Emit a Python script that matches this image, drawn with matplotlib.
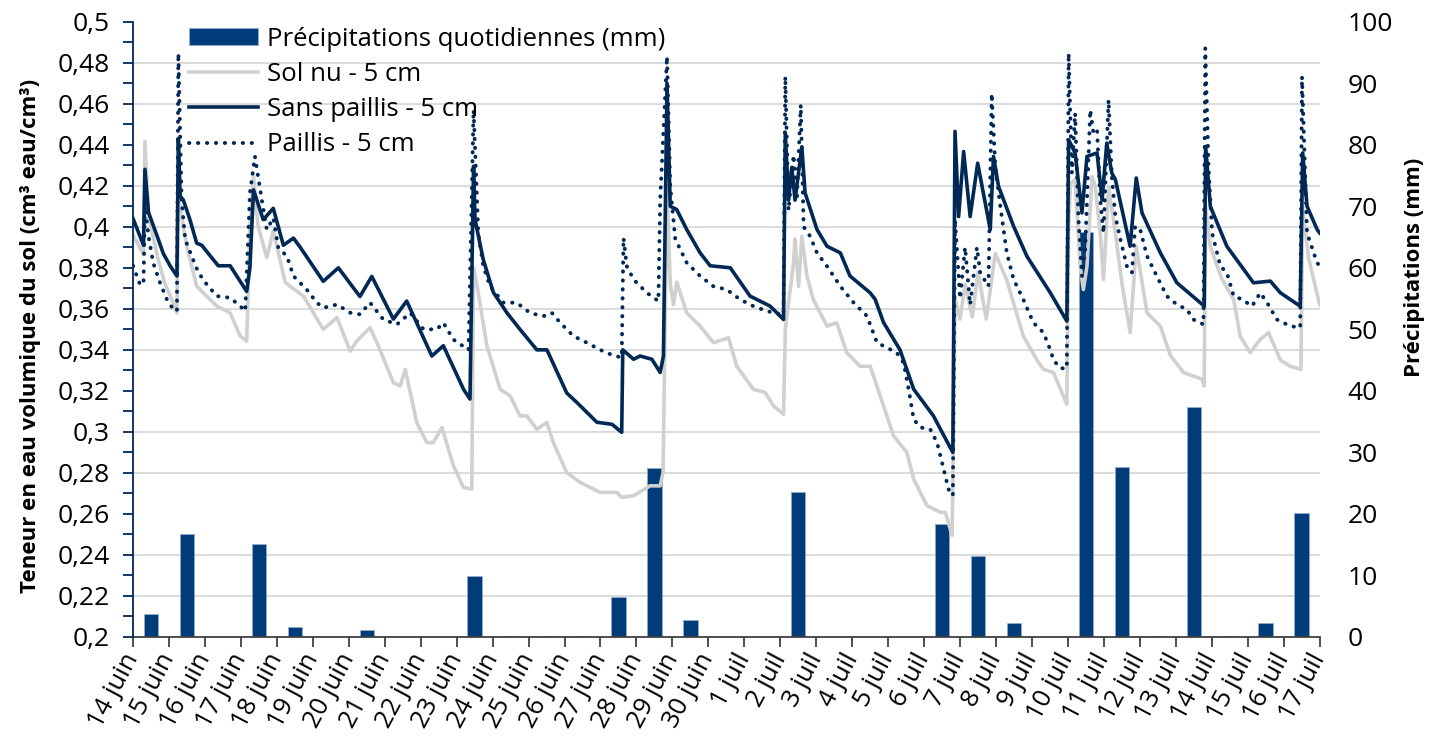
import matplotlib
matplotlib.use("Agg")
import matplotlib.pyplot as plt
from matplotlib.ticker import MultipleLocator, FuncFormatter

plt.rcParams['font.family'] = ['Open Sans', 'DejaVu Sans']

# tick labels (one per day boundary, 14 juin -> 17 juil)
day_labels = ["14 juin", "15 juin", "16 juin", "17 juin", "18 juin", "19 juin", "20 juin",
              "21 juin", "22 juin", "23 juin", "24 juin", "25 juin", "26 juin", "27 juin",
              "28 juin", "29 juin", "30 juin", "1 juil", "2 juil", "3 juil", "4 juil",
              "5 juil", "6 juil", "7 juil", "8 juil", "9 juil", "10 juil", "11 juil",
              "12 juil", "13 juil", "14 juil", "15 juil", "16 juil", "17 juil"]

# daily rainfall (mm), one value per day 14 juin .. 16 juil
precip = [3.7, 16.7, 0, 15.1, 1.7, 0, 1.2, 0, 0, 9.9, 0.1, 0.1, 0.1, 6.5, 27.4, 2.7, 0,
          0, 23.6, 0, 0, 0, 18.4, 13.1, 2.2, 0, 65.8, 27.6, 0.2, 37.3, 0.2, 2.2, 20.2]

# soil water content, (days since 14 juin 0h, cm3/cm3)
sol_nu = [(0, 0.396), (0.29, 0.3865), (0.33, 0.4417), (0.43, 0.405), (0.70, 0.384), (0.89, 0.372),
          (1.08, 0.3645), (1.22, 0.358), (1.26, 0.415), (1.35, 0.405), (1.50, 0.39), (1.77, 0.371),
          (2.33, 0.3613), (2.70, 0.358), (2.98, 0.3467), (3.16, 0.3443), (3.25, 0.40), (3.35, 0.425),
          (3.48, 0.400), (3.72, 0.385), (3.90, 0.398), (4.23, 0.373), (4.37, 0.371), (4.74, 0.3662),
          (5.29, 0.350), (5.67, 0.3557), (6.04, 0.3394), (6.22, 0.3443), (6.59, 0.3508), (6.82, 0.342),
          (7.24, 0.324), (7.43, 0.3224), (7.57, 0.3305), (7.89, 0.3046), (8.17, 0.2948), (8.35, 0.2948),
          (8.59, 0.3021), (8.91, 0.2835), (9.19, 0.2729), (9.42, 0.2721), (9.47, 0.38), (9.56, 0.372),
          (9.84, 0.342), (10.21, 0.3208), (10.49, 0.3175), (10.76, 0.3078), (10.95, 0.3078),
          (11.23, 0.3013), (11.51, 0.3046), (11.69, 0.2948), (12.06, 0.2802), (12.43, 0.2754),
          (12.99, 0.2705), (13.45, 0.2705), (13.59, 0.2681), (13.92, 0.2689), (14.38, 0.2737),
          (14.66, 0.2737), (14.74, 0.28), (14.85, 0.42), (14.94, 0.372), (15.03, 0.362), (15.12, 0.373),
          (15.40, 0.358), (15.77, 0.3516), (16.14, 0.3435), (16.56, 0.3459), (16.79, 0.332),
          (17.25, 0.3208), (17.58, 0.3192), (17.81, 0.3127), (18.09, 0.3086), (18.14, 0.35),
          (18.23, 0.363), (18.37, 0.3824), (18.41, 0.394), (18.51, 0.371), (18.60, 0.3954),
          (18.74, 0.376), (18.92, 0.3645), (19.30, 0.3516), (19.57, 0.3532), (19.85, 0.3386),
          (20.22, 0.332), (20.50, 0.332), (20.78, 0.3175), (21.15, 0.2981), (21.52, 0.29),
          (21.71, 0.277), (22.08, 0.264), (22.45, 0.2608), (22.59, 0.2608), (22.78, 0.2495),
          (22.86, 0.365), (23.00, 0.355), (23.14, 0.372), (23.34, 0.356), (23.50, 0.378),
          (23.73, 0.355), (23.98, 0.387), (24.30, 0.374), (24.76, 0.3467), (25.14, 0.335),
          (25.32, 0.3305), (25.60, 0.3289), (25.83, 0.3192), (25.97, 0.3135), (26.02, 0.40),
          (26.07, 0.421), (26.20, 0.423), (26.34, 0.3808), (26.43, 0.3694), (26.53, 0.3808),
          (26.67, 0.4246), (26.76, 0.4197), (26.90, 0.397), (26.99, 0.3743), (27.13, 0.4197),
          (27.32, 0.397), (27.50, 0.3727), (27.73, 0.3484), (27.90, 0.3905), (28.20, 0.358),
          (28.57, 0.3516), (28.85, 0.3372), (29.22, 0.3289), (29.73, 0.3257), (29.79, 0.3224),
          (29.83, 0.41), (29.96, 0.3904), (30.27, 0.375), (30.61, 0.3645), (30.79, 0.3467),
          (31.07, 0.3386), (31.35, 0.3451), (31.58, 0.3484), (31.91, 0.335), (32.18, 0.332),
          (32.48, 0.3305), (32.53, 0.41), (32.69, 0.385), (33.0, 0.362)]

sans_paillis = [(0, 0.404), (0.29, 0.391), (0.33, 0.428), (0.43, 0.407), (0.70, 0.394), (0.84, 0.387),
                (1.03, 0.381), (1.22, 0.376), (1.26, 0.443), (1.31, 0.415), (1.40, 0.413), (1.59, 0.403),
                (1.77, 0.392), (1.91, 0.391), (2.23, 0.384), (2.37, 0.381), (2.70, 0.381), (3.16, 0.3685),
                (3.25, 0.38), (3.35, 0.418), (3.62, 0.4035), (3.90, 0.409), (4.18, 0.391), (4.46, 0.3945),
                (4.65, 0.390), (5.29, 0.3734), (5.71, 0.380), (6.31, 0.366), (6.64, 0.3758), (7.24, 0.355),
                (7.61, 0.3638), (8.31, 0.337), (8.63, 0.342), (9.19, 0.3208), (9.37, 0.316), (9.47, 0.4295),
                (9.51, 0.4035), (9.74, 0.384), (10.02, 0.368), (10.40, 0.358), (10.76, 0.350),
                (11.23, 0.340), (11.51, 0.340), (12.06, 0.319), (12.34, 0.3144), (12.90, 0.3047),
                (13.32, 0.3037), (13.59, 0.2998), (13.62, 0.340), (13.92, 0.3354), (14.10, 0.337),
                (14.43, 0.3354), (14.66, 0.329), (14.75, 0.337), (14.85, 0.470), (14.94, 0.410),
                (15.12, 0.4084), (15.40, 0.3986), (15.77, 0.3873), (16.05, 0.381), (16.61, 0.380),
                (17.16, 0.3662), (17.72, 0.3613), (18.09, 0.3548), (18.14, 0.4457), (18.23, 0.413),
                (18.32, 0.429), (18.41, 0.413), (18.60, 0.439), (18.69, 0.4165), (19.02, 0.3987),
                (19.30, 0.3905), (19.67, 0.3873), (19.94, 0.376), (20.50, 0.3678), (20.64, 0.3646),
                (20.87, 0.3534), (21.33, 0.340), (21.71, 0.3208), (22.26, 0.3078), (22.50, 0.2998),
                (22.80, 0.290), (22.86, 0.4465), (22.96, 0.405), (23.10, 0.4367), (23.28, 0.405),
                (23.49, 0.431), (23.84, 0.3987), (23.93, 0.4343), (24.07, 0.4197), (24.49, 0.4002),
                (24.86, 0.3856), (25.51, 0.3678), (25.97, 0.354), (26.02, 0.4424), (26.20, 0.436),
                (26.39, 0.4068), (26.53, 0.4343), (26.81, 0.436), (26.95, 0.413), (27.08, 0.4408),
                (27.22, 0.4262), (27.32, 0.423), (27.73, 0.3905), (27.90, 0.4238), (28.06, 0.4068),
                (28.57, 0.3873), (29.03, 0.3727), (29.68, 0.363), (29.79, 0.3613), (29.83, 0.4392),
                (29.96, 0.41), (30.42, 0.3905), (31.16, 0.3727), (31.63, 0.3735), (31.91, 0.3678),
                (32.46, 0.3613), (32.53, 0.436), (32.65, 0.41), (32.93, 0.3987), (33.0, 0.397)]

paillis = [(0, 0.381), (0.19, 0.372), (0.29, 0.372), (0.33, 0.41), (0.43, 0.3954), (0.56, 0.3824),
           (0.75, 0.3727), (0.94, 0.3646), (1.12, 0.3597), (1.22, 0.3589), (1.26, 0.4846), (1.35, 0.4132),
           (1.45, 0.3938), (1.63, 0.3857), (1.82, 0.3776), (2.05, 0.3719), (2.33, 0.3662), (2.70, 0.3654),
           (2.98, 0.3613), (3.12, 0.3589), (3.25, 0.4165), (3.39, 0.4343), (3.58, 0.4132), (3.72, 0.3986),
           (3.90, 0.4043), (4.04, 0.3897), (4.28, 0.3857), (4.46, 0.376), (4.83, 0.3694), (5.11, 0.363),
           (5.29, 0.3605), (5.67, 0.3621), (6.04, 0.3581), (6.31, 0.3573), (6.59, 0.363), (6.96, 0.3548),
           (7.34, 0.3524), (7.71, 0.358), (8.08, 0.350), (8.45, 0.350), (8.63, 0.3532), (8.91, 0.345),
           (9.33, 0.340), (9.47, 0.457), (9.60, 0.397), (9.74, 0.3808), (9.93, 0.371), (10.30, 0.363),
           (10.67, 0.363), (11.04, 0.358), (11.41, 0.3564), (11.65, 0.358), (11.88, 0.3532),
           (12.25, 0.3467), (12.62, 0.3435), (12.99, 0.340), (13.36, 0.3372), (13.59, 0.3363),
           (13.64, 0.3946), (13.73, 0.3808), (13.92, 0.3743), (14.29, 0.3678), (14.61, 0.3638),
           (14.66, 0.413), (14.85, 0.483), (14.94, 0.4197), (15.08, 0.394), (15.40, 0.3824),
           (15.77, 0.376), (16.14, 0.371), (16.51, 0.3694), (16.88, 0.3646), (17.25, 0.3613),
           (17.63, 0.3589), (18.09, 0.357), (18.14, 0.4733), (18.23, 0.408), (18.37, 0.435),
           (18.46, 0.413), (18.57, 0.4595), (18.65, 0.400), (18.83, 0.3954), (19.02, 0.3873),
           (19.30, 0.3808), (19.67, 0.371), (20.04, 0.363), (20.41, 0.3565), (20.69, 0.3435),
           (20.97, 0.341), (21.24, 0.3386), (21.43, 0.3337), (21.57, 0.3208), (21.71, 0.3062),
           (21.89, 0.3022), (22.17, 0.3013), (22.36, 0.2948), (22.50, 0.285), (22.68, 0.272),
           (22.80, 0.2689), (22.86, 0.4035), (23.00, 0.365), (23.14, 0.39), (23.28, 0.362),
           (23.47, 0.390), (23.56, 0.3776), (23.79, 0.371), (23.88, 0.465), (23.98, 0.4295),
           (24.12, 0.410), (24.30, 0.3873), (24.49, 0.3743), (24.76, 0.3645), (25.04, 0.3532),
           (25.32, 0.3484), (25.51, 0.340), (25.60, 0.335), (25.79, 0.331), (25.97, 0.331),
           (26.02, 0.4846), (26.11, 0.4262), (26.20, 0.4554), (26.29, 0.4051), (26.39, 0.376),
           (26.48, 0.389), (26.62, 0.457), (26.71, 0.4457), (26.81, 0.4473), (26.90, 0.413),
           (26.99, 0.397), (27.13, 0.4619), (27.22, 0.4246), (27.32, 0.4051), (27.46, 0.3938),
           (27.64, 0.3808), (27.78, 0.3776), (27.87, 0.4002), (28.01, 0.3987), (28.20, 0.3857),
           (28.47, 0.376), (28.75, 0.3662), (29.03, 0.3621), (29.31, 0.3597), (29.49, 0.3548),
           (29.77, 0.3524), (29.82, 0.4871), (29.91, 0.4294), (30.01, 0.397), (30.24, 0.3808),
           (30.42, 0.3776), (30.61, 0.3662), (30.84, 0.3646), (31.12, 0.3613), (31.35, 0.3678),
           (31.54, 0.363), (31.81, 0.3548), (32.18, 0.3516), (32.46, 0.3508), (32.51, 0.4733),
           (32.65, 0.397), (32.93, 0.3824), (33.0, 0.381)]

navy = "#002855"
bar_blue = "#003b7a"
grey = "#d0d0d0"

fig = plt.figure(figsize=(14.4, 7.4), dpi=100)
ax_p = fig.add_axes([0.0924, 0.1392, 0.824, 0.8315])
ax_w = ax_p.twinx()

# rainfall bars (right axis), drawn behind the lines
bars = ax_p.bar([d + 0.5 for d in range(len(precip))], precip, width=0.4,
                color=bar_blue, edgecolor="#9db3d1", linewidth=0.4, zorder=2,
                label="Précipitations quotidiennes (mm)")
ax_p.set_ylim(0, 100)
ax_p.yaxis.set_major_locator(MultipleLocator(10))
ax_p.yaxis.set_minor_locator(MultipleLocator(100 / 15))
ax_p.set_axisbelow(True)
ax_p.grid(which="minor", axis="y", color="#d9d9d9", linewidth=1.3)
ax_p.yaxis.tick_right()
ax_p.yaxis.set_label_position("right")
ax_p.tick_params(axis="y", which="both", length=0, pad=20, labelsize=19)
ax_p.set_ylabel("Précipitations (mm)", fontsize=16, fontweight="bold")
ax_p.yaxis.set_label_coords(1.071, 0.6)

ax_p.set_xlim(0, 33)
ax_p.set_xticks(range(len(day_labels)))
ax_p.set_xticklabels(day_labels, rotation=62, ha="right", va="center",
                     rotation_mode="anchor", fontsize=18.5)
ax_p.tick_params(axis="x", length=7, width=1.3, color="#404040", pad=6)

# soil water content (left axis)
for series, style in [(sol_nu, dict(color=grey, lw=2.6, label="Sol nu - 5 cm")),
                      (sans_paillis, dict(color=navy, lw=2.6, label="Sans paillis - 5 cm")),
                      (paillis, dict(color=navy, lw=2.8, linestyle=(0, (0.1, 2.2)),
                                     dash_capstyle="round", label="Paillis - 5 cm"))]:
    ax_w.plot([p[0] for p in series], [p[1] for p in series], **style)

ax_w.set_ylim(0.2, 0.5)
ax_w.yaxis.set_major_locator(MultipleLocator(0.02))
ax_w.yaxis.set_minor_locator(MultipleLocator(0.01))
ax_w.yaxis.set_major_formatter(FuncFormatter(lambda v, _: f"{round(v, 2):g}".replace(".", ",")))
ax_w.yaxis.tick_left()
ax_w.yaxis.set_label_position("left")
ax_w.tick_params(axis="y", which="both", length=7, width=1.3, color=navy, labelsize=19, pad=10)
ax_w.set_ylabel("Teneur en eau volumique du sol (cm³ eau/cm³)", fontsize=16, fontweight="bold")
ax_w.yaxis.set_label_coords(-0.078, 0.49)

for s in ["top", "right", "left"]:
    ax_p.spines[s].set_visible(False)
ax_p.spines["bottom"].set_color("#404040")
ax_p.spines["bottom"].set_linewidth(1.3)
for s in ["top", "right", "bottom"]:
    ax_w.spines[s].set_visible(False)
ax_w.spines["left"].set_color(navy)
ax_w.spines["left"].set_linewidth(1.3)

handles = [bars] + ax_w.get_lines()
ax_w.legend(handles, [h.get_label() for h in handles], loc="upper left",
            bbox_to_anchor=(0.047, 0.992), frameon=False, fontsize=18.5,
            handlelength=2.7, handleheight=0.65, labelspacing=0.4,
            handletextpad=0.35, borderpad=0, borderaxespad=0)

fig.savefig("out.png", dpi=100)
